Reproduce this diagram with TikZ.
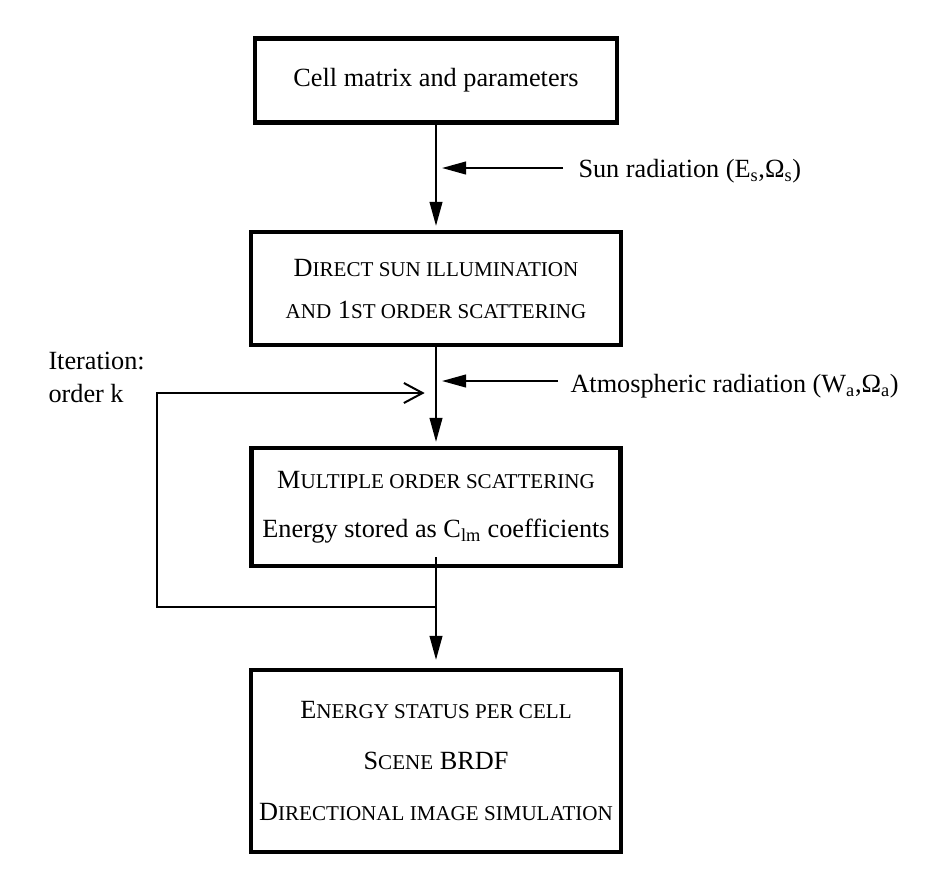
\documentclass[tikz,border=0pt]{standalone}
\usepackage{fontspec}
\setmainfont{Liberation Serif}
\usetikzlibrary{arrows.meta,positioning}

% small capitals made from upper case letters
\newcommand{\smc}[1]{{\fontsize{15.8}{18}\selectfont\MakeUppercase{#1}}}

\tikzset{every picture/.style={line width=0.75pt}}
\tikzset{
  box/.style={draw, line width=3.2pt, align=center, inner sep=0pt, font=\fontsize{19.7}{23.5}\selectfont},
  lbl/.style={inner sep=0pt, anchor=west, font=\fontsize{19.7}{23.5}\selectfont},
  arr/.style={line width=1.5pt, -{Triangle[length=18pt,width=9.5pt]}},
  fbarr/.style={line width=1.5pt, -{Straight Barb[length=14pt,width=15pt,line width=1.5pt]}}
}

\begin{document}
\begin{tikzpicture}[x=0.75pt,y=0.75pt,yscale=-1,xscale=1]
\useasboundingbox (0,0) rectangle (948,883);

% Boxes
\node[box, minimum width=271.5pt, minimum height=63pt] (cell) at (436,80.5) {Cell matrix and parameters};
\node[box, minimum width=277.5pt, minimum height=84.75pt] (direct) at (436,288.5)
  {D\smc{irect sun illumination}\\[8pt] \smc{and} 1\smc{st order scattering}};
\node[box, minimum width=276.75pt, minimum height=88.5pt] (multi) at (436,507)
  {M\smc{ultiple order scattering}\\[13pt] Energy stored as C\textsubscript{lm} coefficients};
\node[box, minimum width=278pt, minimum height=136.5pt] (energy) at (436,761)
  {E\smc{nergy status per cell}\\[14.5pt] S\smc{cene} BRDF\\[14.5pt] D\smc{irectional image simulation}};

% Text Nodes
\node[lbl] (sun) at (578,171) {Sun radiation (E\textsubscript{s},Ω\textsubscript{s})};
\node[lbl] (atm) at (570,386) {Atmospheric radiation (W\textsubscript{a},Ω\textsubscript{a})};
\node[lbl, anchor=north west, align=left] (iter) at (48,352) {Iteration:\\[1pt]order k};

% Main flow
\draw[arr, shorten >=3pt] (cell.south) -- (direct.north);
\draw[arr, shorten >=3pt] (direct.south) -- (multi.north);
\draw[arr, shorten >=6pt] ([yshift=-8pt]multi.south) -- (energy.north);

% Inputs
\coordinate (sunin) at (563,168);
\coordinate (atmin) at (558,381);
\draw[arr, shorten >=4.5pt] (sunin) -- (sunin -| cell.south);
\draw[arr, shorten >=4.5pt] (atmin) -- (atmin -| direct.south);

% Iteration loop
\coordinate (fbR) at (436,607);
\coordinate (fbL) at (157,393);
\draw[fbarr, shorten >=8.5pt] (fbR) -| (fbL) -- (fbL -| multi.north);
\end{tikzpicture}
\end{document}
